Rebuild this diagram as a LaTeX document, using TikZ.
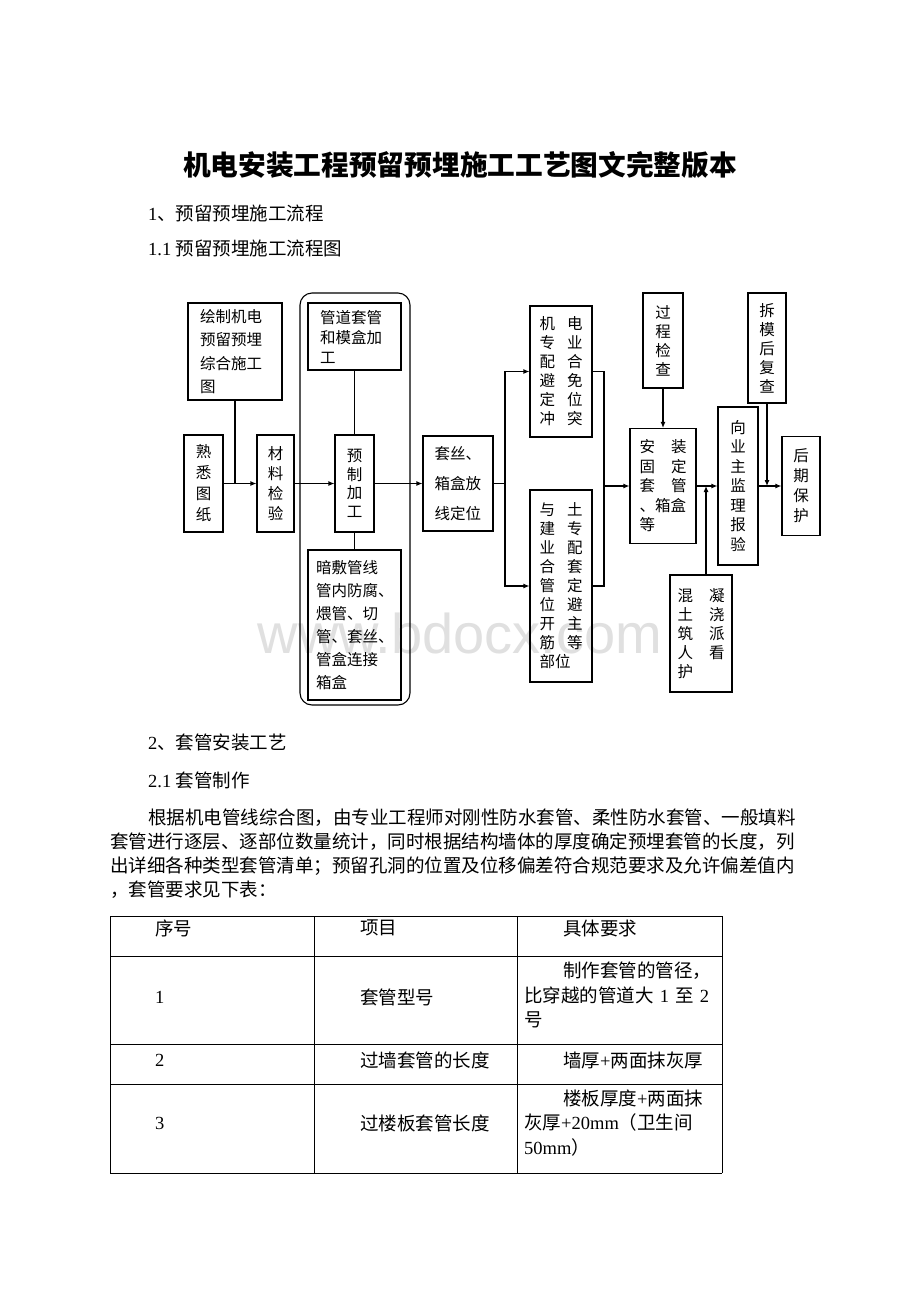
\documentclass[tikz,border=0pt]{standalone}
\usepackage{fontspec}
\setmainfont{Liberation Serif}
\newfontfamily\cjk{Noto Sans CJK SC}
\newfontfamily\wmark{Liberation Sans}
\usetikzlibrary{arrows.meta}
\newcommand{\lat}[1]{{\rmfamily #1}}

\begin{document}
\begin{tikzpicture}[x=1pt,y=-1pt,
	body/.style={anchor=west,inner sep=0pt,font=\cjk\fontsize{18.5}{24.5}\selectfont},
	box/.style={draw,line width=1.1pt,inner ysep=0pt,font=\cjk\fontsize{15.5}{#1}\selectfont},
	txt/.style={box=#1,align=left},
	col/.style={box=#1,align=center,inner xsep=0pt}]
		\fill[white] (0,0) rectangle (920,1302);
		\useasboundingbox (0,0) rectangle (920,1302);
		\node[text=black!12,font=\wmark\fontsize{56}{60}\selectfont] (wm) at (460,633) {www.bdocx.com};
		%
		\node[font=\cjk\bfseries\fontsize{27.7}{30}\selectfont] (title) at (460,165) {机电安装工程预留预埋施工工艺图文完整版本};
		\node[body] (s1) at (148,213) {\lat{1}、预留预埋施工流程};
		\node[body] (s11) at (148,248) {\lat{1.1 }预留预埋施工流程图};
		\node[body] (s2) at (148,742) {\lat{2}、套管安装工艺};
		\node[body] (s21) at (148,780) {\lat{2.1 }套管制作};
		\node[body] (p1) at (148,818) {根据机电管线综合图，由专业工程师对刚性防水套管、柔性防水套管、一般填料};
		\node[body] (p2) at (110,842) {套管进行逐层、逐部位数量统计，同时根据结构墙体的厚度确定预埋套管的长度，列};
		\node[body] (p3) at (110,866) {出详细各种类型套管清单；预留孔洞的位置及位移偏差符合规范要求及允许偏差值内};
		\node[body] (p4) at (110,890) {，套管要求见下表：};
		%
		\node[txt=23.3,text width=70pt,inner xsep=12pt,minimum height=97pt] (A) at (235,351.5) {绘制机电\\预留预埋\\综合施工\\图};
		\node[col=21,minimum width=39pt,minimum height=97pt] (A') at (203.5,483.5) {熟\\悉\\图\\纸};
		\node[col=20,minimum width=37pt,minimum height=97pt] (B) at (275.5,483.5) {材\\料\\检\\验};
		\node[draw,line width=1.1pt,rounded corners=12pt,minimum width=110pt,minimum height=412pt] (grp) at (355,499) {};
		\node[txt=20,text width=69pt,inner xsep=12pt,minimum height=67pt] (C) at (354.5,336.5) {管道套管\\和模盒加\\工};
		\node[col=18.5,minimum width=39pt,minimum height=97pt] (C') at (354.5,483.5) {预\\制\\加\\工};
		\node[txt=23,text width=77pt,inner xsep=8pt,minimum height=150pt] (C'') at (354.5,625) {暗敷管线\\管内防腐、\\煨管、切\\管、套丝、\\管盒连接\\箱盒};
		\node[txt=30,text width=47pt,inner xsep=11.5pt,minimum height=95pt] (D) at (458,483.5) {套丝、\\箱盒放\\线定位};
		\node[txt=19,text width=43pt,inner xsep=9.5pt,minimum height=131pt] (E) at (561,371.5) {机\hspace{12pt}电\\专\hspace{12pt}业\\配\hspace{12pt}合\\避\hspace{12pt}免\\定\hspace{12pt}位\\冲\hspace{12pt}突};
		\node[txt=19,text width=43pt,inner xsep=9.5pt,minimum height=192pt] (E') at (561,586) {与\hspace{12pt}土\\建\hspace{12pt}专\\业\hspace{12pt}配\\合\hspace{12pt}套\\管\hspace{12pt}定\\位\hspace{12pt}避\\开\hspace{12pt}主\\筋\hspace{12pt}等\\部位};
		\node[col=19,minimum width=40pt,minimum height=95pt] (F) at (663,340.5) {过\\程\\检\\查};
		\node[txt=19.5,text width=47pt,inner xsep=9.5pt,minimum height=115pt] (F') at (663,486) {安\hspace{16pt}装\\固\hspace{16pt}定\\套\hspace{16pt}管\\、箱盒\\等};
		\node[txt=19,text width=47pt,inner xsep=7.5pt,minimum height=117pt] (F'') at (701,633.5) {混\hspace{16pt}凝\\土\hspace{16pt}浇\\筑\hspace{16pt}派\\人\hspace{16pt}看\\护};
		\node[col=19.5,minimum width=40pt,minimum height=158pt] (G) at (738,486) {向\\业\\主\\监\\理\\报\\验};
		\node[col=19,minimum width=38pt,minimum height=110pt] (H) at (767,348) {拆\\模\\后\\复\\查};
		\node[col=20,minimum width=38pt,minimum height=99pt] (H') at (801,486) {后\\期\\保\\护};
		\coordinate (split) at (505,483.5);
		\coordinate (join) at (604,486);
		%
		\path[->,line width=1.1pt,>={Latex[length=6pt,width=5pt]}]
		% horizontal arrows
		(A') edge (B)
		(B) edge (C')
		(C') edge (D)
		(join) edge (F')
		(F') edge (G)
		(G) edge (H')
		% vertical arrows
		(F) edge (F')
		(H) edge (H |- H'.west)
		([xshift=5pt]F''.north) edge ([xshift=5pt]F''.north |- G.west);
		\draw[->,line width=1.1pt,>={Latex[length=6pt,width=5pt]}] (D) -- (split) |- (E);
		\draw[->,line width=1.1pt,>={Latex[length=6pt,width=5pt]}] (split) |- (E');
		% plain lines
		\path[line width=1.1pt]
		(A) edge (A |- A'.east)
		(C) edge (C')
		(C') edge (C'');
		\draw[line width=1.1pt] (E) -| (join) |- (E');
		%
		% table
		\foreach \y in {916,956,1044,1084,1173} \draw[line width=0.9pt] (110,\y) -- (722,\y);
		\foreach \x in {110,314,517,722} \draw[line width=0.9pt] (\x,916) -- (\x,1173);
		\node[body] (t01) at (155,928) {序号};
		\node[body] (t02) at (360,928) {项目};
		\node[body] (t03) at (563,928) {具体要求};
		\node[body] (t11) at (155,997) {\lat{1}};
		\node[body] (t12) at (360,997) {套管型号};
		\node[body,text width=195pt,align=left] (t13) at (524,995) {\hspace*{39pt}制作套管的管径，\\比穿越的管道大\lat{ 1 }至\lat{ 2}\\号};
		\node[body] (t21) at (155,1060) {\lat{2}};
		\node[body] (t22) at (360,1060) {过墙套管的长度};
		\node[body] (t23) at (563,1060) {墙厚\lat{+}两面抹灰厚};
		\node[body] (t31) at (155,1123) {\lat{3}};
		\node[body] (t32) at (360,1123) {过楼板套管长度};
		\node[body,text width=195pt,align=left] (t33) at (524,1123) {\hspace*{39pt}楼板厚度\lat{+}两面抹\\灰厚\lat{+20mm}（卫生间\\\lat{50mm}）};
	\end{tikzpicture}
\end{document}
